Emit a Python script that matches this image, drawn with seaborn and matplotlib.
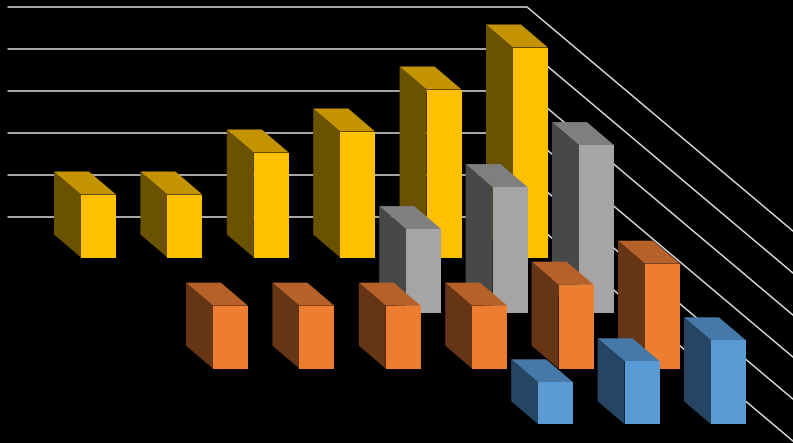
import matplotlib
matplotlib.use("Agg")
import matplotlib.pyplot as plt
import pandas as pd
import seaborn as sns

# Data, back row first (None = no bar in that slot)
categories = ["C1", "C2", "C3", "C4", "C5", "C6"]
series_a = [1.5, 1.5, 2.5, 3, 4, 5]
series_b = [None, None, None, 2, 3, 4]
series_c = [1.5, 1.5, 1.5, 1.5, 2, 2.5]
series_d = [None, None, None, 1, 1.5, 2]
grid_levels = [1, 2, 3, 4, 5, 6]

front_colors = ["#FFC000", "#A5A5A5", "#ED7D31", "#5B9BD5"]
side_colors = ["#6B5200", "#484848", "#653515", "#264562"]
top_colors = ["#C49300", "#7F7F7F", "#B7612A", "#4679A8"]

# Layout in pixels
W, H = 793, 443
SLOT = 86.4       # distance between categories
UNIT = 42.0       # pixels per value unit
BAR_W = 35.0
FIRST_CENTER = 98.5
BASE_Y = 257.5    # floor line of the back row
ROW_DX, ROW_DY = 66.0, 55.6   # shift from row to row
DEPTH_DX, DEPTH_DY = 27.0, 23.0  # bar depth, drawn up and to the left
GRID_LEFT, GRID_CORNER, GRID_DROP = 8.0, 527.0, 1.5

sns.set_theme(style="white", rc={"axes.facecolor": "none", "figure.facecolor": "black"})
fig = plt.figure(figsize=(W / 100, H / 100), dpi=100)


def make_axes(row):
    left = FIRST_CENTER - SLOT / 2 + row * ROW_DX
    bottom = H - (BASE_Y + row * ROW_DY)
    ax = fig.add_axes([left / W, bottom / H, SLOT * 6 / W, UNIT * 6 / H], zorder=row + 1)
    return ax


def draw_row(row, values):
    ax = make_axes(row)
    df = pd.DataFrame({"cat": categories, "value": values}).dropna()
    sns.barplot(data=df, x="cat", y="value", order=categories, color=front_colors[row],
                saturation=1, width=BAR_W / SLOT, ax=ax, zorder=3, linewidth=0, edgecolor="none")
    dx = DEPTH_DX / SLOT
    dy = DEPTH_DY / UNIT
    hw = BAR_W / SLOT / 2
    for i, cat in enumerate(categories):
        v = values[i]
        if v is None:
            continue
        # side and top faces come from the same value as the front face
        ax.fill([i - hw, i - hw - dx, i - hw - dx, i - hw], [0, dy, v + dy, v],
                color=side_colors[row], lw=0, clip_on=False, zorder=2)
        ax.fill([i - hw, i - hw - dx, i + hw - dx, i + hw], [v, v + dy, v + dy, v],
                color=top_colors[row], lw=0, clip_on=False, zorder=2)
    for p in ax.patches:
        p.set_clip_on(False)
    ax.set_xlim(-0.5, 5.5)
    ax.set_ylim(0, 6)
    ax.axis("off")
    return ax


rows = [series_a, series_b, series_c, series_d]
axes = [draw_row(r, vals) for r, vals in enumerate(rows)]

# Gridlines sit behind the back row, running along the wall then down the side
back = axes[0]
to_x = lambda px: (px - FIRST_CENTER) / SLOT
run = 5
for level in grid_levels:
    y = level - GRID_DROP / UNIT
    back.plot([to_x(GRID_LEFT), to_x(GRID_CORNER), to_x(GRID_CORNER + run * ROW_DX)],
              [y, y, y - run * ROW_DY / UNIT],
              color="#D9D9D9", lw=1.1, clip_on=False, zorder=1)
back.set_xlim(-0.5, 5.5)
back.set_ylim(0, 6)

fig.savefig("out.png", dpi=100, facecolor="black")
